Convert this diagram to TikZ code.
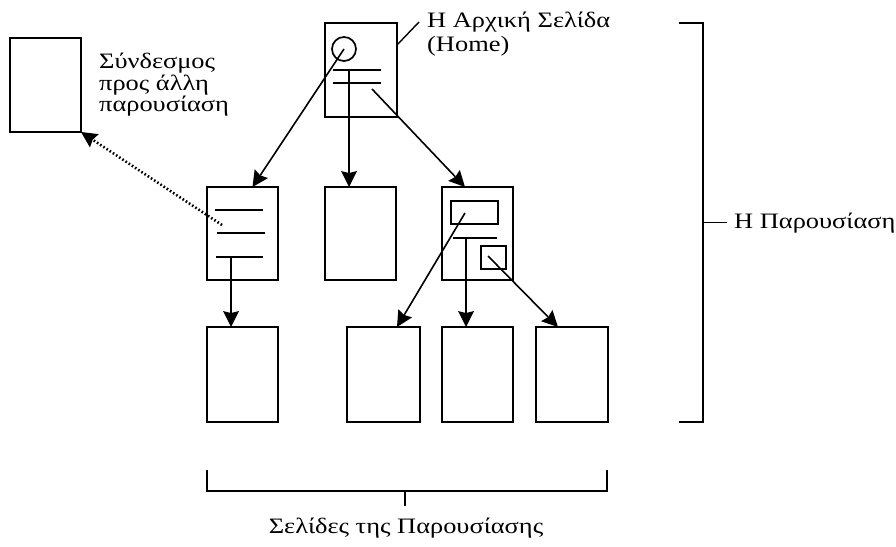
\documentclass[tikz,border=0pt]{standalone}
\usepackage{fontspec}
\setmainfont[FakeStretch=1.2]{Liberation Serif}
\usetikzlibrary{arrows.meta,calc}

\tikzset{
  pagebox/.style={draw, line width=1.7pt, inner sep=0pt, outer sep=0pt,
    minimum width=71pt, minimum height=94pt},
  inbox/.style={draw, line width=1.7pt, inner sep=0pt, outer sep=0pt},
  rule/.style={line width=1.7pt},
  tip/.style={-{Stealth[length=16pt,width=16pt,inset=2pt,line width=0pt]}},
  arr/.style={line width=1.6pt, tip},
  dotarr/.style={line width=2.6pt, dash pattern=on 1.6pt off 2.2pt, tip},
  brace/.style={line width=1.4pt},
  lbl/.style={font=\fontsize{22}{24}\selectfont, inner sep=0pt}
}

\begin{document}
\begin{tikzpicture}[x=1pt, y=-1pt]
\useasboundingbox (0,0) rectangle (896,546);

% pages
\node[pagebox, minimum width=72pt] (home) at (361,70) {};
\node[pagebox] (ext) at (45.5,85) {};
\node[pagebox, minimum height=93pt] (pa) at (242.5,233.5) {};
\node[pagebox, minimum height=93pt] (pb) at (360.5,233.5) {};
\node[pagebox, minimum height=93pt] (pc) at (477.5,233.5) {};
\node[pagebox, minimum height=95pt] (q1) at (242.5,374.5) {};
\node[pagebox, minimum width=73pt, minimum height=95pt] (q2) at (383.5,374.5) {};
\node[pagebox, minimum height=95pt] (q3) at (477.5,374.5) {};
\node[pagebox, minimum width=72pt, minimum height=95pt] (q4) at (572,374.5) {};

% home page content
\node[inbox, circle, minimum size=24pt] (hlink) at (344,49) {};
\draw[rule] (333,70) -- (381,70);
\draw[rule] (333,83) -- (381,83);
\coordinate (hv) at (349,70);
\coordinate (hr) at (372,89);
\draw[arr] (hlink.center) -- ([xshift=10pt]pa.north);
\draw[arr] (hv) -- (hv |- pb.north);
\draw[arr] (hr) -- ([xshift=-12.5pt]pc.north);

% page with a list
\draw[rule] (215,210) -- (263,210);
\draw[rule] (217,233) -- (265,233);
\draw[rule] (216,257) -- (263,257);
\coordinate (av) at (231,257);
\coordinate (ad) at (222,225);
\draw[arr] (av) -- (av |- q1.north);
\draw[dotarr] (ad) -- (ext.south east);

% page with frames
\node[inbox, minimum width=47pt, minimum height=23pt] (cr) at (474.5,212.5) {};
\node[inbox, minimum width=25pt, minimum height=23pt] (cs) at (493.5,257.5) {};
\draw[rule] (453,238) -- (497,238);
\coordinate (cv) at (466,238);
\coordinate (ca) at (465,213);
\coordinate (cb) at (488,256);
\draw[arr] (ca) -- ([xshift=13.5pt]q2.north);
\draw[arr] (cv) -- (cv |- q3.north);
\draw[arr] (cb) -- ([xshift=-14pt]q4.north);

% labels
\node[lbl, anchor=west, align=left] (homelbl) at (427,34) {Η Αρχική Σελίδα\\(Home)};
\draw[brace] ([yshift=25pt]home.east) -- (419,22);
\node[lbl, anchor=west, align=left, font=\fontsize{22}{21.5}\selectfont] (extlbl) at (99,85)
  {Σύνδεσμος\\προς άλλη\\παρουσίαση};

% bracket around the presentation
\draw[brace] (679,23) -- (703,23) -- (703,422) -- (679,422);
\draw[brace] (703,222.5) -- (727,222.5);
\node[lbl, anchor=west] (preslbl) at (734,223) {Η Παρουσίαση};

% bracket under the pages
\draw[brace] (207,470) -- (207,491) -- (607,491) -- (607,470);
\draw[brace] (405,491) -- (405,506);
\node[lbl] (pageslbl) at (406,528) {Σελίδες της Παρουσίασης};
\end{tikzpicture}
\end{document}
